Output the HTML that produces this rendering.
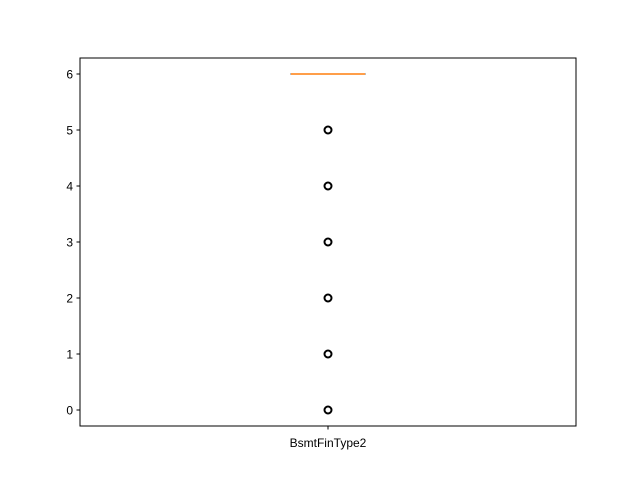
<!DOCTYPE html>
<html><head><meta charset="utf-8"><style>
body{margin:0;background:#fff;}
svg{display:block;font-family:"Liberation Sans","DejaVu Sans",sans-serif;}
</style></head><body>
<svg id="chart" width="640" height="480">
<rect x="0" y="0" width="640" height="480" fill="#fff"/>
<g id="marks"></g>
<rect x="80" y="58" width="496" height="368" fill="none" stroke="#000" stroke-width="1"/>
<g id="axes"></g>
</svg>
<script>
const categories = ["BsmtFinType2"];
const q1Values = [6];
const medianValues = [6];
const q3Values = [6];
const whiskerLow = [6];
const whiskerHigh = [6];
const flierValues = [[5,4,3,2,1,0]];
const yTicks = [0,1,2,3,4,5,6];

const NS="http://www.w3.org/2000/svg";
const plotTop=58, plotBottom=426, plotLeft=80, plotRight=576;
function yScale(v){return 410-(v)*56;}
function xScale(i){return plotLeft+(i+0.5)*(plotRight-plotLeft)/categories.length;}
function mk(tag,attrs,parent){const e=document.createElementNS(NS,tag);for(const k in attrs)e.setAttribute(k,attrs[k]);parent.appendChild(e);return e;}
const marks=document.getElementById('marks');
const axes=document.getElementById('axes');
const boxHalf=37, capHalf=18.5;
categories.forEach((c,i)=>{
  const cx=xScale(i);
  const box=mk('rect',{x:cx-boxHalf,y:yScale(q3Values[i]),width:boxHalf*2,height:Math.max(0.01,yScale(q1Values[i])-yScale(q3Values[i])),fill:'none',stroke:'#000','stroke-width':1},marks);
  
  
  const wl=mk('line',{x1:cx,x2:cx,y1:yScale(q1Values[i]),y2:yScale(whiskerLow[i]),stroke:'#000'},marks);
  
  
  const wh=mk('line',{x1:cx,x2:cx,y1:yScale(q3Values[i]),y2:yScale(whiskerHigh[i]),stroke:'#000'},marks);
  
  
  [whiskerLow[i],whiskerHigh[i]].forEach((v,k)=>{
    const cap=mk('line',{x1:cx-capHalf,x2:cx+capHalf,y1:yScale(v),y2:yScale(v),stroke:'#000'},marks);
    
    
  });
  const med=mk('line',{x1:cx-boxHalf,x2:cx+boxHalf,y1:yScale(medianValues[i]),y2:yScale(medianValues[i]),stroke:'#ff7f0e','stroke-width':1.5},marks);
  
  
  flierValues[i].forEach(v=>{
    const f=mk('circle',{cx:cx,cy:yScale(v),r:3.5,fill:'none',stroke:'#000','stroke-width':2},marks);
    
    
  });
  const xt=mk('line',{x1:cx,x2:cx,y1:plotBottom,y2:plotBottom+3.5,stroke:'#000'},axes);
  
  
  const xl=mk('text',{x:cx,y:plotBottom+21,'text-anchor':'middle','font-size':12,fill:'#000'},axes);
  xl.textContent=c;
  
  
});
yTicks.forEach(t=>{
  const y=yScale(t);
  const tk=mk('line',{x1:plotLeft-3.5,x2:plotLeft,y1:y,y2:y,stroke:'#000'},axes);
  
  
  const tl=mk('text',{x:plotLeft-7,y:y+4.5,'text-anchor':'end','font-size':12,fill:'#000'},axes);
  tl.textContent=String(t);
  
  
});
</script>
</body></html>
